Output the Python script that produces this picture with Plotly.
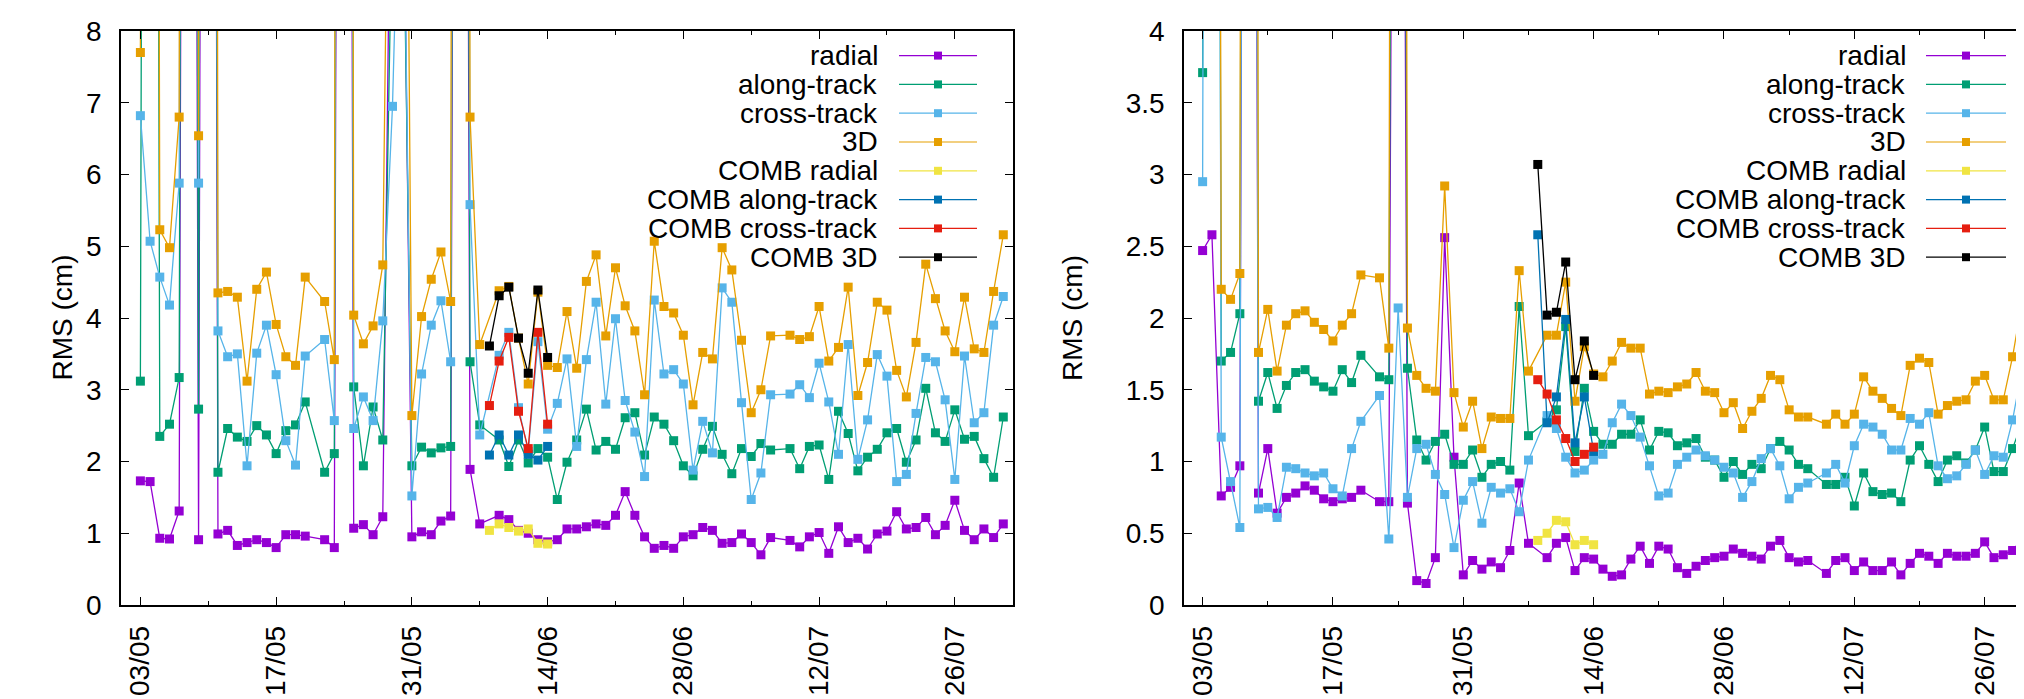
import pandas as pd
import plotly.graph_objects as go

N = None
start = pd.Timestamp("2021-05-03")
dates = [start + pd.Timedelta(days=i) for i in range(90)]
comb_dates = dates[36:43]

series_names = ["radial", "along-track", "cross-track", "3D",
                "COMB radial", "COMB along-track", "COMB cross-track", "COMB 3D"]
colors = ["#9400d3", "#009e73", "#56b4e9", "#e69f00",
          "#f0e442", "#0072b2", "#e51e10", "#000000"]

# ---------------- left panel ----------------
L_radial = [1.73, 1.72, 0.93, 0.92, 1.31, 45, 0.91, 50, 0.99, 1.04,
            0.83, 0.87, 0.91, 0.87, 0.80, 0.98, 0.98, 0.96, N, 0.91,
            0.80, 45, 1.07, 1.12, 0.98, 1.23, 13, 12, 0.95, 1.02,
            0.98, 1.17, 1.24, 40, 1.89, 1.13, N, 1.25, 1.19, 1.04,
            1.00, 0.91, 0.88, 0.91, 1.06, 1.06, 1.09, 1.13, 1.11, 1.25,
            1.58, 1.25, 0.95, 0.79, 0.83, 0.79, 0.95, 0.98, 1.08, 1.04,
            0.86, 0.87, 0.99, 0.87, 0.70, 0.94, N, 0.90, 0.81, 0.95,
            1.01, 0.72, 1.09, 0.87, 0.93, 0.78, 0.99, 1.03, 1.30, 1.06,
            1.08, 1.22, 0.98, 1.11, 1.46, 1.04, 0.91, 1.06, 0.94, 1.13]
L_along = [3.12, 55, 2.35, 2.52, 3.17, 50, 2.73, 60, 1.85, 2.46,
           2.34, 2.28, 2.50, 2.37, 2.11, 2.43, 2.51, 2.83, N, 1.85,
           2.11, 50, 3.04, 1.94, 2.76, 2.30, 10, 11, 1.94, 2.20,
           2.12, 2.19, 2.21, 45, 3.39, 2.51, N, 2.30, 1.93, 2.30,
           1.98, 2.18, 2.06, 1.47, 1.99, 2.30, 2.73, 2.16, 2.28, 2.17,
           2.61, 2.68, 2.09, 2.62, 2.52, 2.29, 1.94, 1.80, 2.17, 2.49,
           2.10, 1.83, 2.18, 2.07, 2.25, 2.16, N, 2.18, 1.90, 2.21,
           2.23, 1.75, 2.70, 2.39, 1.87, 2.06, 2.17, 2.40, 2.46, 1.99,
           2.30, 3.02, 2.40, 2.28, 2.72, 2.31, 2.35, 2.04, 1.78, 2.62]
L_cross = [6.82, 5.07, 4.57, 4.18, 5.88, 55, 5.88, 55, 3.82, 3.46,
           3.50, 1.94, 3.51, 3.90, 3.21, 2.29, 1.95, 3.47, N, 3.70,
           2.57, 60, 2.46, 2.90, 2.57, 3.96, 6.95, 12, 1.52, 3.22,
           3.90, 4.24, 3.39, 50, 5.58, 2.37, N, 3.48, 3.80, 2.75,
           2.14, 3.67, 2.45, 2.81, 3.43, 2.21, 3.42, 4.22, 2.80, 3.99,
           2.85, 2.41, 1.79, 4.25, 3.22, 3.28, 3.08, 1.88, 2.56, 2.12,
           4.42, 4.22, 2.82, 1.47, 1.84, 2.93, N, 2.94, 3.07, 2.89,
           3.37, 2.83, 2.10, 3.63, 2.03, 2.58, 3.49, 3.19, 1.72, 1.82,
           2.67, 3.45, 3.39, 2.86, 1.75, 3.47, 2.54, 2.68, 3.90, 4.30]
L_3d = [7.70, 60, 5.23, 4.98, 6.80, 80, 6.54, 90, 4.35, 4.37,
        4.29, 3.12, 4.40, 4.64, 3.91, 3.46, 3.34, 4.57, N, 4.23,
        3.42, 85, 4.04, 3.64, 3.89, 4.74, 16, 20, 2.64, 4.02,
        4.54, 4.92, 4.23, 75, 6.80, 3.63, N, 4.38, 4.44, 3.72,
        3.08, 4.36, 3.34, 3.31, 4.09, 3.30, 4.51, 4.88, 3.75, 4.70,
        4.17, 3.82, 2.93, 5.07, 4.16, 4.07, 3.76, 2.79, 3.52, 3.43,
        4.98, 4.67, 3.69, 2.68, 3.00, 3.75, N, 3.76, 3.70, 3.74,
        4.16, 3.40, 3.59, 4.43, 2.92, 3.38, 4.22, 4.11, 3.27, 2.90,
        3.66, 4.75, 4.27, 3.82, 3.53, 4.29, 3.57, 3.52, 4.37, 5.16]
L_comb_radial = [1.04, 1.13, 1.08, 1.03, 1.06, 0.86, 0.85]
L_comb_along = [2.09, 2.37, 2.09, 2.37, 2.10, 2.02, 2.21]
L_comb_cross = [2.78, 3.40, 3.73, 2.70, 2.18, 3.80, 2.52]
L_comb_3d = [3.61, 4.31, 4.43, 3.72, 3.23, 4.39, 3.45]

# ---------------- right panel ----------------
R_radial = [2.47, 2.58, 0.76, 0.82, 0.97, 20, 0.78, 1.09, 0.64, 0.75,
            0.78, 0.83, 0.80, 0.74, 0.72, 0.74, 0.75, 0.80, N, 0.72,
            0.72, 15, 0.71, 0.17, 0.15, 0.33, 2.56, 1.03, 0.21, 0.31,
            0.25, 0.30, 0.26, 0.38, 0.85, 0.43, N, 0.33, 0.43, 0.47,
            0.24, 0.33, 0.32, 0.25, 0.20, 0.21, 0.32, 0.41, 0.29, 0.41,
            0.39, 0.26, 0.22, 0.27, 0.31, 0.33, 0.34, 0.39, 0.36, 0.34,
            0.32, 0.41, 0.45, 0.33, 0.30, 0.31, N, 0.22, 0.31, 0.33,
            0.24, 0.30, 0.24, 0.24, 0.30, 0.21, 0.29, 0.36, 0.34, 0.29,
            0.36, 0.34, 0.34, 0.36, 0.44, 0.33, 0.35, 0.38, 0.46, 0.37]
R_along = [3.71, 25, 1.70, 1.76, 2.03, 25, 1.42, 1.62, 1.37, 1.53,
           1.62, 1.64, 1.56, 1.52, 1.49, 1.64, 1.55, 1.74, N, 1.59,
           1.57, 18, 1.65, 1.15, 1.01, 1.14, 1.19, 0.98, 0.98, 1.08,
           0.89, 0.98, 1.00, 0.94, 2.08, 1.18, N, 1.28, 1.36, 1.94,
           1.07, 1.51, 1.21, 1.12, 1.12, 1.19, 1.19, 1.29, 1.08, 1.21,
           1.20, 1.11, 1.13, 1.16, 1.03, 1.01, 0.89, 1.00, 0.91, 0.98,
           0.95, 1.09, 1.14, 1.08, 0.98, 0.95, N, 0.84, 0.84, 0.89,
           0.69, 0.92, 0.79, 0.77, 0.78, 0.72, 1.01, 1.11, 0.98, 0.86,
           1.01, 1.04, 0.99, 1.08, 1.24, 0.93, 0.93, 1.09, 1.27, 1.07]
R_cross = [2.95, 28, 1.17, 0.86, 0.54, 25, 0.67, 0.68, 0.61, 0.96,
           0.95, 0.92, 0.90, 0.92, 0.81, 0.76, 1.09, 1.28, N, 1.46,
           0.46, 2.07, 0.75, 1.09, 1.12, 0.91, 0.77, 0.40, 0.73, 0.86,
           0.57, 0.82, 0.78, 0.81, 0.65, 1.01, N, 1.32, 1.23, 1.03,
           0.92, 0.94, 1.01, 1.05, 1.27, 1.40, 1.32, 1.17, 0.97, 0.76,
           0.78, 0.98, 1.03, 1.08, 1.04, 1.01, 0.96, 0.92, 0.75, 0.86,
           1.02, 1.09, 0.97, 0.74, 0.82, 0.85, N, 0.92, 0.98, 0.85,
           1.11, 1.26, 1.24, 1.19, 1.08, 1.08, 1.30, 1.26, 1.34, 0.97,
           0.88, 0.90, 0.98, 1.08, 0.91, 1.04, 1.03, 1.29, 1.64, 1.70]
R_3d = [5.34, 30, 2.20, 2.13, 2.31, 40, 1.76, 2.06, 1.63, 1.95,
        2.03, 2.05, 1.97, 1.92, 1.84, 1.95, 2.03, 2.30, N, 2.28,
        1.79, 30, 1.93, 1.60, 1.51, 1.49, 2.92, 1.48, 1.24, 1.42,
        1.09, 1.31, 1.30, 1.30, 2.33, 1.63, N, 1.88, 1.88, 2.25,
        1.42, 1.80, 1.61, 1.59, 1.70, 1.83, 1.79, 1.79, 1.47, 1.49,
        1.48, 1.52, 1.54, 1.62, 1.49, 1.48, 1.34, 1.41, 1.23, 1.35,
        1.44, 1.60, 1.57, 1.36, 1.31, 1.31, N, 1.26, 1.33, 1.26,
        1.33, 1.59, 1.49, 1.44, 1.37, 1.32, 1.67, 1.72, 1.69, 1.33,
        1.39, 1.42, 1.43, 1.56, 1.60, 1.43, 1.43, 1.73, 2.11, 2.04]
R_comb_radial = [0.45, 0.50, 0.59, 0.58, 0.42, 0.45, 0.42]
R_comb_along = [2.58, 1.27, 1.45, 1.99, 1.13, 1.45, 1.07]
R_comb_cross = [1.57, 1.47, 1.29, 1.16, 1.00, 1.05, 1.10]
R_comb_3d = [3.07, 2.02, 2.04, 2.39, 1.57, 1.84, 1.60]

# ---------------- layout constants ----------------
W, H = 2024, 699
FONT = "Liberation Sans, Arial, sans-serif"
FS = 28


def px(x):
    return x / W


def py(y):
    return 1 - y / H


def clean(xs, ys):
    pairs = [(a, b) for a, b in zip(xs, ys) if b is not None]
    return [p[0] for p in pairs], [p[1] for p in pairs]


fig = go.Figure()

panels = [
    ("x", "y", [L_radial, L_along, L_cross, L_3d],
     [L_comb_radial, L_comb_along, L_comb_cross, L_comb_3d]),
    ("x2", "y2", [R_radial, R_along, R_cross, R_3d],
     [R_comb_radial, R_comb_along, R_comb_cross, R_comb_3d]),
]
for xa, ya, regs, combs in panels:
    allser = [(dates, s) for s in regs] + [(comb_dates, s) for s in combs]
    for k, (xs, ys) in enumerate(allser):
        cx, cy = clean(xs, ys)
        fig.add_trace(go.Scatter(
            x=cx, y=cy, mode="lines+markers", xaxis=xa, yaxis=ya,
            name=series_names[k], showlegend=False, hoverinfo="skip",
            line=dict(color=colors[k], width=1.3),
            marker=dict(symbol="square", size=9, color=colors[k], line=dict(width=0)),
        ))

ydom = [py(597), py(23)]
day = 86400000
xcommon = dict(
    type="date", tickformat="%d/%m", dtick=14 * day, tick0="2021-05-03",
    tickangle=-90, ticks="inside", ticklen=8, tickwidth=1.2, tickcolor="black",
    showline=True, linecolor="black", linewidth=1.5, showgrid=False, zeroline=False,
    tickfont=dict(family=FONT, size=FS, color="black"), ticklabelstandoff=8,
    automargin=False,
    minor=dict(ticks="inside", ticklen=4, dtick=7 * day, tick0="2021-05-03",
               tickcolor="black", tickwidth=1.2, showgrid=False),
)
ycommon = dict(
    ticks="inside", ticklen=8, tickwidth=1.2, tickcolor="black",
    showline=True, linecolor="black", linewidth=1.5, showgrid=False, zeroline=False,
    tickfont=dict(family=FONT, size=FS, color="black"), ticklabelstandoff=12,
    automargin=False,
)

r_end = pd.Timestamp("2021-05-01") + pd.Timedelta(days=(W - 1176) / 9.31)

fig.update_layout(
    template="none",
    width=W, height=H, autosize=False,
    margin=dict(l=0, r=0, t=0, b=0, pad=0),
    paper_bgcolor="white", plot_bgcolor="white",
    font=dict(family=FONT, size=FS, color="black"),
    xaxis=dict(domain=[px(113), px(1005)], range=["2021-05-01", "2021-08-01"],
               mirror="ticks", anchor="y", **xcommon),
    yaxis=dict(domain=ydom, range=[0, 8], dtick=1, mirror="ticks", anchor="x", **ycommon),
    xaxis2=dict(domain=[px(1176), 1.0], range=["2021-05-01", r_end],
                mirror="ticks", anchor="y2", **xcommon),
    yaxis2=dict(domain=ydom, range=[0, 4], dtick=0.5, mirror=False, anchor="x2", **ycommon),
)

# y-axis titles
for xc in (36, 1064):
    fig.add_annotation(x=px(xc), y=py(310), xref="paper", yref="paper",
                       text="RMS (cm)", textangle=-90, showarrow=False,
                       font=dict(family=FONT, size=FS, color="black"))

# manual gnuplot-style keys
for text_right, line_l, line_r in ((872, 891, 969), (1900, 1918, 1998)):
    for i, name in enumerate(series_names):
        yy = 47.6 + i * 28.8
        fig.add_annotation(x=px(text_right), y=py(yy), xref="paper", yref="paper",
                           text=name, showarrow=False, xanchor="right", yanchor="middle",
                           font=dict(family=FONT, size=FS, color="black"))
        fig.add_shape(type="line", xref="paper", yref="paper",
                      x0=px(line_l), x1=px(line_r), y0=py(yy), y1=py(yy),
                      line=dict(color=colors[i], width=1.2))
        mc = (line_l + line_r) / 2
        fig.add_shape(type="rect", xref="paper", yref="paper",
                      x0=px(mc - 4), x1=px(mc + 4), y0=py(yy - 4), y1=py(yy + 4),
                      line=dict(width=0), fillcolor=colors[i])

fig.write_html("out.html")
